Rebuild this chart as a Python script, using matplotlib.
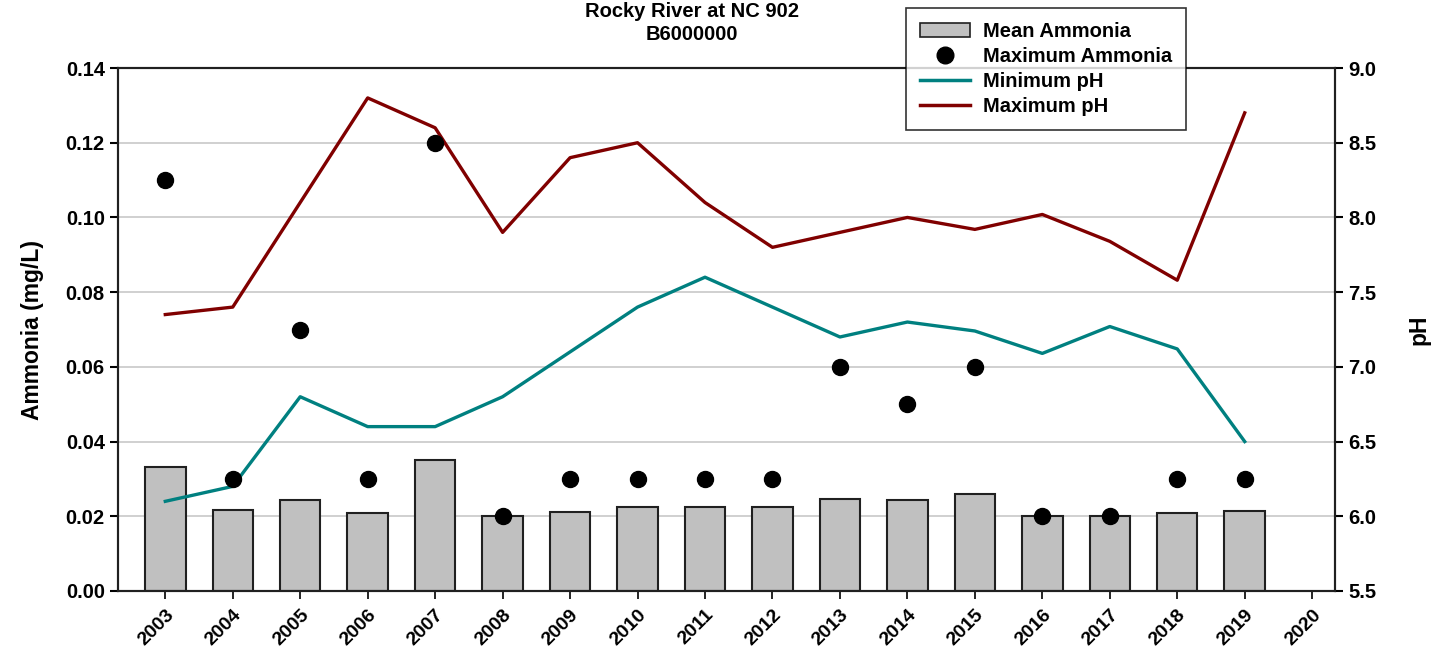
import numpy as np
import matplotlib
matplotlib.use("Agg")
import matplotlib.pyplot as plt
from matplotlib.lines import Line2D
from matplotlib.patches import Patch

plt.rcParams['font.family'] = ['Liberation Sans', 'DejaVu Sans']
plt.rcParams['font.weight'] = 'bold'

# data
years = list(range(2003, 2020))
mean_nh3 = [0.0332, 0.0217, 0.0244, 0.0209, 0.0351, 0.0200, 0.0211, 0.0225, 0.0225,
            0.0225, 0.0246, 0.0244, 0.0260, 0.0200, 0.0200, 0.0209, 0.0213]
max_nh3 = [0.11, 0.03, 0.07, 0.03, 0.12, 0.02, 0.03, 0.03, 0.03,
           0.03, 0.06, 0.05, 0.06, 0.02, 0.02, 0.03, 0.03]
min_ph = [6.1, 6.2, 6.8, 6.6, 6.6, 6.8, 7.1, 7.4, 7.6,
          7.4, 7.2, 7.3, 7.24, 7.09, 7.27, 7.12, 6.5]
max_ph = [7.35, 7.4, 8.1, 8.8, 8.6, 7.9, 8.4, 8.5, 8.1,
          7.8, 7.9, 8.0, 7.92, 8.02, 7.84, 7.58, 8.7]
tick_years = list(range(2003, 2021))

fig = plt.figure(figsize=(14.31, 6.51), dpi=100)
ax = fig.add_axes([0.0825, 0.0922, 0.8505, 0.8033])
ax2 = ax.twinx()

# bars on left axis
ax.bar(years, mean_nh3, width=0.6, color='#c0c0c0', edgecolor='#202020', linewidth=1.5, zorder=2)
ax.set_ylim(0, 0.14)
ax.set_yticks(np.arange(0, 0.141, 0.02))
ax.set_yticklabels(['%.2f' % v for v in np.arange(0, 0.141, 0.02)])
ax.yaxis.grid(True, color='#c8c8c8', linewidth=1.2, zorder=0)
ax.set_axisbelow(True)
ax.set_xlim(2002.3, 2020.34)
ax.set_xticks(tick_years)
ax.set_xticklabels([str(y) for y in tick_years], rotation=45, ha='right',
                   rotation_mode='anchor', fontsize=14, fontweight='bold')
ax.set_ylabel('Ammonia (mg/L)', fontsize=16.5, fontweight='bold', labelpad=16)
ax.tick_params(axis='y', labelsize=14.5, width=1.5, length=6)
ax.tick_params(axis='x', width=1.2, length=6, pad=5)

# pH lines on right axis (drawn above the bars)
ax2.plot(years, min_ph, color='#008080', linewidth=2.4, zorder=3)
ax2.plot(years, max_ph, color='#800000', linewidth=2.4, zorder=3)
# max ammonia points use the left axis scale
ax2.plot(years, max_nh3, 'o', color='black', markersize=11.5, zorder=4,
         transform=ax.transData)
ax2.set_ylim(5.5, 9.0)
ax2.set_yticks(np.arange(5.5, 9.01, 0.5))
ax2.set_yticklabels(['%.1f' % v for v in np.arange(5.5, 9.01, 0.5)])
ax2.tick_params(axis='y', labelsize=14.5, width=1.5, length=6)
ax2.set_ylabel('pH', fontsize=16.5, fontweight='bold', labelpad=22)

for a in (ax, ax2):
    for s in a.spines.values():
        s.set_linewidth(1.5)
        s.set_color('#202020')

fig.text(0.4836, 0.997, 'Rocky River at NC 902\nB6000000', ha='center', va='top',
         fontsize=14.5, fontweight='bold', linespacing=1.25)

handles = [Patch(facecolor='#c0c0c0', edgecolor='#202020', linewidth=1.2),
           Line2D([], [], marker='o', color='black', linestyle='none', markersize=12),
           Line2D([], [], color='#008080', linewidth=2.5),
           Line2D([], [], color='#800000', linewidth=2.5)]
labels = ['Mean Ammonia', 'Maximum Ammonia', 'Minimum pH', 'Maximum pH']
leg = fig.legend(handles, labels, loc='upper left', bbox_to_anchor=(906 / 1431, 1 - 8 / 651),
                 fontsize=14.5, frameon=True, fancybox=False, edgecolor='black',
                 borderpad=0.7, labelspacing=0.3, handlelength=2.5, handletextpad=0.6,
                 borderaxespad=0)
leg.get_frame().set_linewidth(1.2)
leg.set_zorder(10)

fig.savefig('out.png', dpi=100)
